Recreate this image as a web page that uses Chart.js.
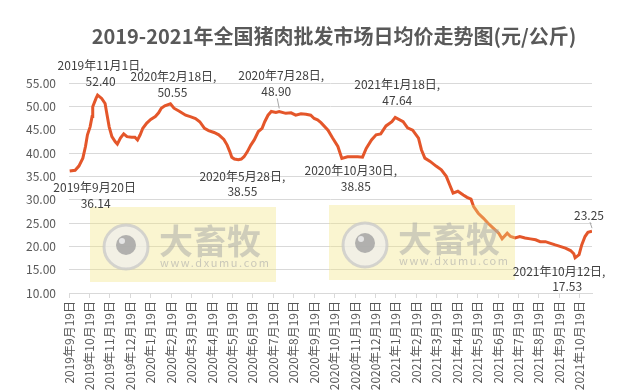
<!DOCTYPE html>
<html lang="zh">
<head>
<meta charset="UTF-8">
<title>2019-2021年全国猪肉批发市场日均价走势图</title>
<script src="https://cdn.jsdelivr.net/npm/chart.js"></script>
<style>
  body { margin: 0; background: #fff; }
  #wrap { width: 638px; height: 392px; position: relative; }
</style>
</head>
<body>
<div id="wrap"><canvas id="pork"></canvas></div>
<script>
// daily wholesale price samples (元/公斤)
const dates = [
  '2019-09-20','2019-09-28','2019-10-03','2019-10-09','2019-10-13','2019-10-16','2019-10-20','2019-10-23',
  '2019-10-24','2019-10-29','2019-11-01','2019-11-07','2019-11-12','2019-11-14','2019-11-18','2019-11-22',
  '2019-11-27','2019-11-30','2019-12-04','2019-12-09','2019-12-14','2019-12-21','2019-12-26','2019-12-30',
  '2020-01-03','2020-01-07','2020-01-13','2020-01-19','2020-01-26','2020-01-31','2020-02-05','2020-02-10',
  '2020-02-18','2020-02-23','2020-03-01','2020-03-10','2020-03-17','2020-03-25','2020-04-01','2020-04-08',
  '2020-04-14','2020-04-22','2020-04-29','2020-05-06','2020-05-11','2020-05-15','2020-05-18','2020-05-22',
  '2020-05-28','2020-06-02','2020-06-06','2020-06-11','2020-06-16','2020-06-21','2020-06-27','2020-07-02',
  '2020-07-06','2020-07-11','2020-07-16','2020-07-23','2020-07-28','2020-08-07','2020-08-15','2020-08-22',
  '2020-08-30','2020-09-07','2020-09-14','2020-09-19','2020-09-24','2020-09-29','2020-10-09','2020-10-16',
  '2020-10-24','2020-10-30','2020-11-08','2020-11-16','2020-11-23','2020-11-30','2020-12-05','2020-12-13',
  '2020-12-20','2020-12-27','2021-01-04','2021-01-13','2021-01-18','2021-01-30','2021-02-07','2021-02-14',
  '2021-02-22','2021-02-26','2021-03-01','2021-03-09','2021-03-18','2021-03-26','2021-04-03','2021-04-08',
  '2021-04-13','2021-04-20','2021-04-28','2021-05-03','2021-05-09','2021-05-13','2021-05-20','2021-05-28',
  '2021-06-04','2021-06-12','2021-06-20','2021-06-25','2021-07-02','2021-07-07','2021-07-14','2021-07-21',
  '2021-07-29','2021-08-06','2021-08-14','2021-08-21','2021-08-29','2021-09-05','2021-09-13','2021-09-20',
  '2021-09-28','2021-10-05','2021-10-10','2021-10-12','2021-10-18','2021-10-22','2021-10-27','2021-11-01',
  '2021-11-07'
];
const prices = [
  36.14, 36.3, 37.2, 38.9, 41.4, 43.9, 45.6, 47.8,
  49.9, 51.7, 52.40, 51.7, 50.6, 48.9, 45.6, 43.5,
  42.4, 41.9, 43.2, 44.1, 43.5, 43.4, 43.4, 42.8,
  43.9, 45.3, 46.4, 47.2, 47.8, 48.6, 49.6, 50.1,
  50.55, 49.6, 48.9, 48.1, 47.8, 47.4, 46.7, 45.3,
  44.8, 44.4, 43.9, 42.9, 41.7, 40.3, 39.1, 38.7,
  38.55, 38.7, 39.2, 40.3, 41.7, 42.8, 44.6, 45.3,
  46.7, 48.1, 48.9, 48.7, 48.90, 48.5, 48.6, 48.1,
  48.4, 48.3, 48.1, 47.4, 47.1, 46.5, 44.9, 43.2,
  41.4, 38.85, 39.2, 39.2, 39.2, 39.1, 41.0, 42.8,
  43.9, 44.1, 45.8, 46.7, 47.64, 46.7, 45.4, 44.9,
  43.2, 40.7, 38.9, 38.2, 37.2, 36.4, 35.0, 33.2,
  31.4, 31.8, 31.0, 30.5, 30.1, 28.5, 27.1, 26.0,
  25.0, 23.9, 22.8, 21.6, 22.8, 22.1, 21.8, 22.1,
  21.8, 21.6, 21.4, 21.0, 21.0, 20.7, 20.3, 20.0,
  19.6, 19.1, 18.4, 17.53, 18.2, 20.3, 22.1, 23.0,
  23.25
];
const tickLabels = [
  '2019年9月19日','2019年10月19日','2019年11月19日','2019年12月19日',
  '2020年1月19日','2020年2月19日','2020年3月19日','2020年4月19日','2020年5月19日','2020年6月19日',
  '2020年7月19日','2020年8月19日','2020年9月19日','2020年10月19日','2020年11月19日','2020年12月19日',
  '2021年1月19日','2021年2月19日','2021年3月19日','2021年4月19日','2021年5月19日','2021年6月19日',
  '2021年7月19日','2021年8月19日','2021年9月19日','2021年10月19日'
];
// highlighted points: date, label lines, text offsets from the point
const callouts = [
  { date: '2019-09-20', lines: ['2019年9月20日', '36.14'], dx: [25, 26], dy: [16, 32] },
  { date: '2019-11-01', lines: ['2019年11月1日,', '52.40'], dx: [3, 3], dy: [-30, -14] },
  { date: '2020-02-18', lines: ['2020年2月18日,', '50.55'], dx: [3, 2], dy: [-27, -11] },
  { date: '2020-05-28', lines: ['2020年5月28日,', '38.55'], dx: [4, 4], dy: [17, 32] },
  { date: '2020-07-28', lines: ['2020年7月28日,', '48.90'], dx: [2, -3], dy: [-36, -20], leader: true },
  { date: '2020-10-30', lines: ['2020年10月30日,', '38.85'], dx: [9, 14], dy: [12, 28] },
  { date: '2021-01-18', lines: ['2021年1月18日,', '47.64'], dx: [2, 2], dy: [-33, -17] },
  { date: '2021-10-12', lines: ['2021年10月12日,', '17.53'], dx: [-16, -8], dy: [14, 29] },
  { date: '2021-11-07', lines: ['23.25'], dx: [-3], dy: [-16], leader: true }
];

const FONT = '"Noto Sans CJK SC", "Noto Sans", sans-serif';

function monthIndex(s) {
  const [y, m, d] = s.split('-').map(Number);
  const dim = new Date(y, m, 0).getDate();
  return (y - 2019) * 12 + (m - 9) + (d - 19) / dim;
}

const points = dates.map((d, i) => ({ x: monthIndex(d), y: prices[i] }));

const titlePlugin = {
  id: 'title',
  afterDraw(chart) {
    const ctx = chart.ctx;
    ctx.save();
    ctx.font = 'bold 20px ' + FONT;
    ctx.fillStyle = '#595959';
    ctx.textAlign = 'center';
    ctx.textBaseline = 'middle';
    ctx.fillText('2019-2021年全国猪肉批发市场日均价走势图(元/公斤)', 334, 36);
    ctx.restore();
  }
};

function drawMark(ctx, x, y) {
  ctx.fillStyle = 'rgba(240,226,125,0.36)';
  ctx.fillRect(x, y, 186, 75);
  // eye logo
  ctx.beginPath();
  ctx.arc(x + 36, y + 40, 22, 0, Math.PI * 2);
  ctx.fillStyle = 'rgba(238,238,238,0.7)';
  ctx.fill();
  ctx.lineWidth = 3;
  ctx.strokeStyle = 'rgba(200,200,200,0.75)';
  ctx.stroke();
  ctx.beginPath();
  ctx.arc(x + 36, y + 38, 10, 0, Math.PI * 2);
  ctx.fillStyle = 'rgba(160,160,160,0.8)';
  ctx.fill();
  ctx.beginPath();
  ctx.arc(x + 32, y + 34, 3, 0, Math.PI * 2);
  ctx.fillStyle = 'rgba(235,235,235,0.9)';
  ctx.fill();
  ctx.fillStyle = 'rgba(165,165,165,0.5)';
  ctx.textAlign = 'left';
  ctx.textBaseline = 'middle';
  ctx.font = 'bold 34px ' + FONT;
  ctx.fillText('大畜牧', x + 69, y + 34);
  ctx.font = '11px ' + FONT;
  ctx.fillStyle = 'rgba(170,170,170,0.6)';
  if ('letterSpacing' in ctx) ctx.letterSpacing = '1.6px';
  ctx.fillText('www.dxumu.com', x + 70, y + 56);
  if ('letterSpacing' in ctx) ctx.letterSpacing = '0px';
}

const watermarkPlugin = {
  id: 'watermark',
  afterDatasetsDraw(chart) {
    const ctx = chart.ctx;
    const a = chart.chartArea;
    ctx.save();
    drawMark(ctx, a.left + 21, a.top + 124);
    drawMark(ctx, a.left + 260, a.top + 122);
    ctx.restore();
  }
};

const calloutPlugin = {
  id: 'callouts',
  afterDraw(chart) {
    const ctx = chart.ctx;
    const xs = chart.scales.x, ys = chart.scales.y;
    ctx.save();
    ctx.font = '12px ' + FONT;
    ctx.fillStyle = '#404040';
    ctx.textAlign = 'center';
    ctx.textBaseline = 'middle';
    callouts.forEach(c => {
      const i = dates.indexOf(c.date);
      const px = xs.getPixelForValue(points[i].x);
      const py = ys.getPixelForValue(points[i].y);
      c.lines.forEach((t, k) => ctx.fillText(t, px + c.dx[k], py + c.dy[k]));
      if (c.leader) {
        ctx.strokeStyle = '#a6a6a6';
        ctx.lineWidth = 1;
        ctx.beginPath();
        const last = c.lines.length - 1;
        ctx.moveTo(px + c.dx[last] + 1, py + c.dy[last] + 7);
        ctx.lineTo(px, py - 3);
        ctx.stroke();
      }
    });
    ctx.restore();
  }
};

new Chart(document.getElementById('pork'), {
  type: 'line',
  data: {
    datasets: [{
      data: points,
      borderColor: '#E4562A',
      borderWidth: 3,
      pointRadius: 0,
      tension: 0,
      fill: false
    }]
  },
  options: {
    responsive: true,
    maintainAspectRatio: false,
    animation: false,
    layout: { padding: { top: 83, right: 46, left: 0, bottom: 0 } },
    plugins: { legend: { display: false }, tooltip: { enabled: false }, title: { display: false } },
    scales: {
      x: {
        type: 'linear',
        min: 0,
        max: monthIndex(dates[dates.length - 1]),
        afterFit(s) { s.height = 99; },
        afterBuildTicks(s) { s.ticks = s.ticks.filter(t => Number.isInteger(t.value)); },
        grid: { drawOnChartArea: false, drawTicks: true, tickLength: 5, color: '#d9d9d9' },
        border: { display: true, color: '#d9d9d9' },
        ticks: {
          stepSize: 1,
          includeBounds: false,
          autoSkip: false,
          minRotation: 90,
          maxRotation: 90,
          padding: 3,
          color: '#595959',
          font: { family: FONT, size: 12 },
          callback: v => tickLabels[v] || ''
        }
      },
      y: {
        min: 10,
        max: 55,
        afterFit(s) { s.width = 69; },
        grid: { color: '#d9d9d9', drawTicks: false },
        border: { display: false },
        ticks: {
          stepSize: 5,
          padding: 13,
          color: '#595959',
          font: { family: FONT, size: 12 },
          callback: v => v.toFixed(2)
        }
      }
    }
  },
  plugins: [watermarkPlugin, calloutPlugin, titlePlugin]
});
</script>
</body>
</html>
